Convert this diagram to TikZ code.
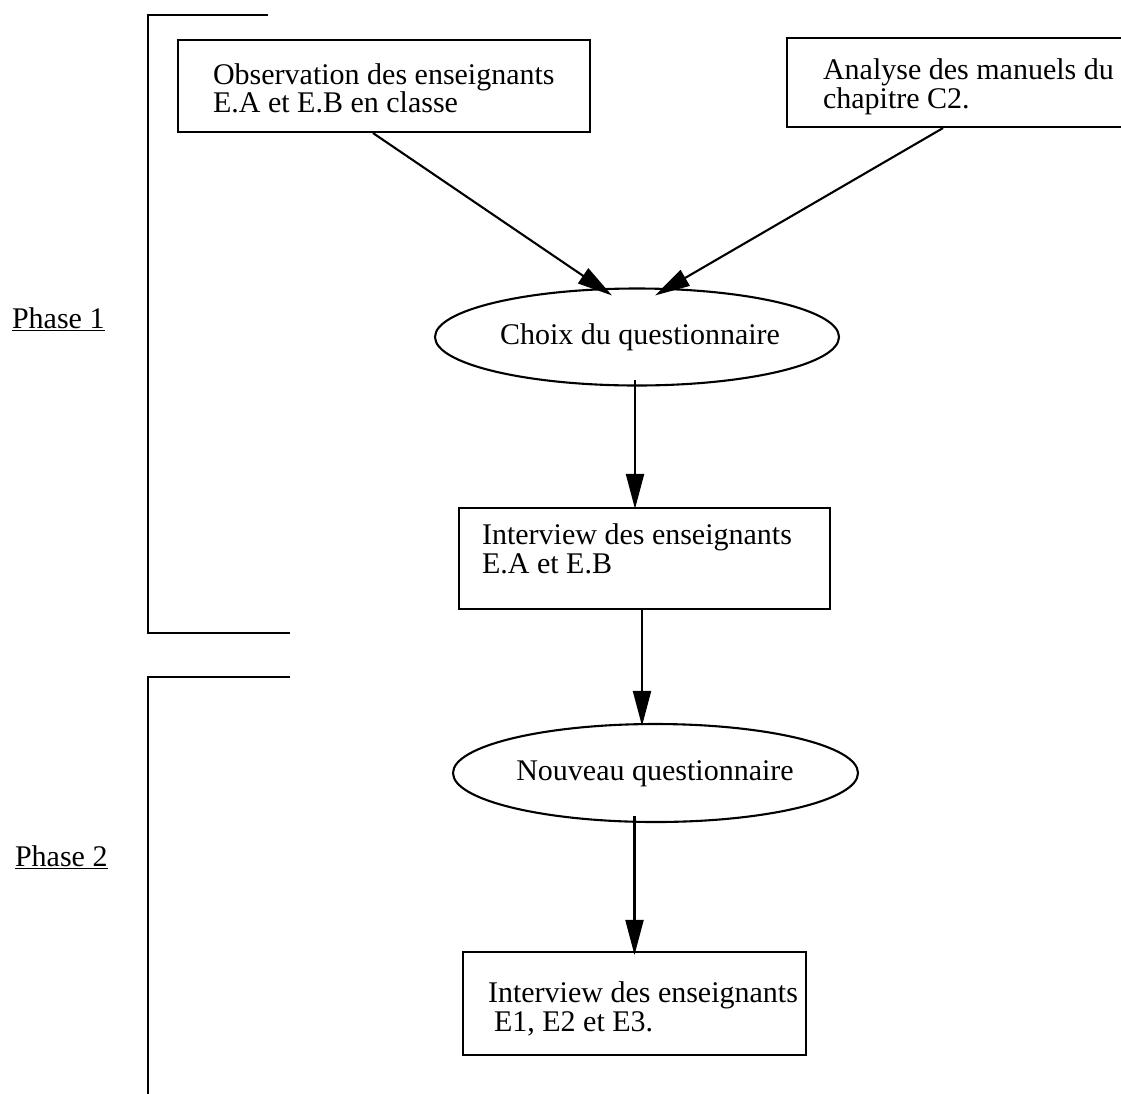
\documentclass[tikz,border=0pt]{standalone}
\usepackage{fontspec}
\setmainfont{Liberation Serif}
\usetikzlibrary{arrows.meta,shapes.geometric}
\begin{document}
\begin{tikzpicture}[x=1pt,y=-1pt,line width=2.1pt,
  box/.style={draw,rectangle,inner sep=0pt},
  oval/.style={draw,ellipse,inner sep=0pt,minimum width=404pt,minimum height=97pt},
  lbl/.style={anchor=base west,inner sep=0pt,font=\fontsize{30}{28}\selectfont},
  clbl/.style={anchor=base,inner sep=0pt,font=\fontsize{30}{28}\selectfont},
  arr/.style={-{Triangle[length=35pt,width=18pt]}},
  bracket/.style={line width=2.1pt}]
\useasboundingbox (0,0) rectangle (1121,1093);
% brackets
\coordinate (b1a) at (268,15);
\coordinate (b1b) at (148,15);
\coordinate (b1c) at (148,633);
\coordinate (b1d) at (290,633);
\draw[bracket] (b1a) -- (b1b) -- (b1c) -- (b1d);
\coordinate (b2a) at (290,677);
\coordinate (b2b) at (148,677);
\coordinate (b2c) at (148,1100);
\draw[bracket] (b2a) -- (b2b) -- (b2c);
% phase labels
\node[lbl] (ph1) at (11,328) {\underline{Phase 1}};
\node[lbl] (ph2) at (14,866) {\underline{Phase 2}};
% boxes
\node[box,minimum width=412pt,minimum height=92pt] (obs) at (384,86) {};
\node[lbl] (obst) at (212,84) {Observation des enseignants};
\node[lbl] (obst2) at (212,112) {E.A et E.B en classe};
\node[box,minimum width=340pt,minimum height=89pt] (ana) at (957,82.5) {};
\node[lbl] (anat) at (822,79) {Analyse des manuels du};
\node[lbl] (anat2) at (822,108) {chapitre C2.};
\node[oval] (choix) at (637,337) {};
\node[clbl] (choixt) at (640,344) {Choix du questionnaire};
\node[box,minimum width=371pt,minimum height=101pt] (int1) at (644.5,558.5) {};
\node[lbl] (int1t) at (481,544) {Interview des enseignants};
\node[lbl] (int1t2) at (481,573) {E.A et E.B};
\node[oval,minimum width=405pt,minimum height=98pt] (nouv) at (655.5,773) {};
\node[clbl] (nouvt) at (655,780) {Nouveau questionnaire};
\node[box,minimum width=343pt,minimum height=103pt] (int2) at (634.5,1003.5) {};
\node[lbl] (int2t) at (487,1002) {Interview des enseignants};
\node[lbl] (int2t2) at (493,1031) {E1, E2 et E3.};
% arrows
\draw[arr] ([xshift=-11pt]obs.south) -- ([xshift=-25pt,yshift=-8pt]choix.north);
\draw[arr] ([xshift=-14pt]ana.south) -- ([xshift=18pt,yshift=-8pt]choix.north);
\draw[arr] ([xshift=-2pt,yshift=7pt]choix.south) -- ([xshift=-2pt,yshift=-2pt]choix.south |- int1.north);
\draw[arr] ([xshift=-2.5pt]int1.south) -- ([xshift=-13.5pt,yshift=-3pt]nouv.north);
\draw[arr] ([yshift=7pt]int2.north |- nouv.south) -- ([yshift=-4pt]int2.north);
\end{tikzpicture}
\end{document}
